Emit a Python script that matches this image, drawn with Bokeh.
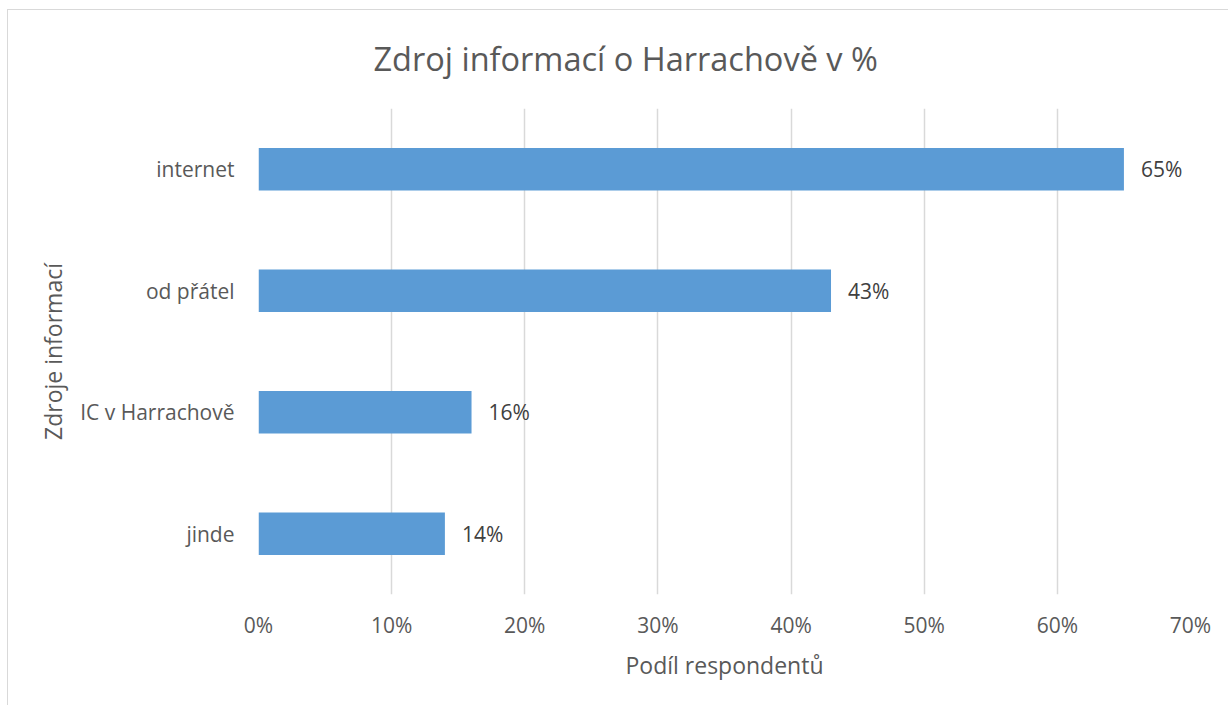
from bokeh.plotting import figure
from bokeh.models import ColumnDataSource, FixedTicker, PrintfTickFormatter, Range1d
from bokeh.core.properties import value
from bokeh.embed import file_html
from bokeh.resources import INLINE

categories = ["internet", "od přátel", "IC v Harrachově", "jinde"]
values = [65, 43, 16, 14]
labels = ["65%", "43%", "16%", "14%"]
x_ticks = [0, 10, 20, 30, 40, 50, 60, 70]

FONT = "Open Sans"
TXT = "#595959"

src = ColumnDataSource(dict(cat=categories, val=values, lab=labels))

p = figure(width=1221, height=696, output_backend="svg", toolbar_location=None,
           y_range=list(reversed(categories)), x_range=Range1d(0, 70),
           min_border_left=250, min_border_right=39, min_border_top=98, min_border_bottom=112)

p.hbar(y="cat", right="val", left=0, height=0.35, source=src, color="#5b9bd5", line_color=None)
p.text(x="val", y="cat", text="lab", source=src, x_offset=17, text_baseline="middle",
       text_align="left", text_font=value(FONT), text_font_size="21px", text_color="#404040")

p.title.text = "Zdroj informací o Harrachově v %"
p.title.align = "left"
p.title.vertical_align = "top"
p.title.offset = 115
p.title.text_font = FONT
p.title.text_font_size = "32.5px"
p.title.text_font_style = "normal"
p.title.text_color = TXT
p.title.standoff = 51

p.outline_line_color = None
p.ygrid.grid_line_color = None
p.xgrid.grid_line_color = "#d9d9d9"
p.xgrid.grid_line_width = 1.5

p.xaxis.ticker = FixedTicker(ticks=x_ticks)
p.xaxis.formatter = PrintfTickFormatter(format="%d%%")
for ax in (p.xaxis, p.yaxis):
    ax.axis_line_color = None
    ax.major_tick_line_color = None
    ax.minor_tick_line_color = None
    ax.major_label_text_font = FONT
    ax.major_label_text_font_size = "21px"
    ax.major_label_text_color = TXT
    ax.axis_label_text_font = FONT
    ax.axis_label_text_font_size = "23px"
    ax.axis_label_text_font_style = "normal"
    ax.axis_label_text_color = TXT

p.xaxis.axis_label = "Podíl respondentů"
p.yaxis.axis_label = "Zdroje informací"
p.xaxis.major_label_standoff = 10
p.xaxis.axis_label_standoff = 7
p.yaxis.major_label_standoff = 18
p.yaxis.axis_label_standoff = 8

p.styles = {"margin-left": "7px", "margin-top": "9px",
            "border-left": "1px solid #d9d9d9", "border-top": "1px solid #d9d9d9"}

open("out.html", "w").write(file_html(p, INLINE))
